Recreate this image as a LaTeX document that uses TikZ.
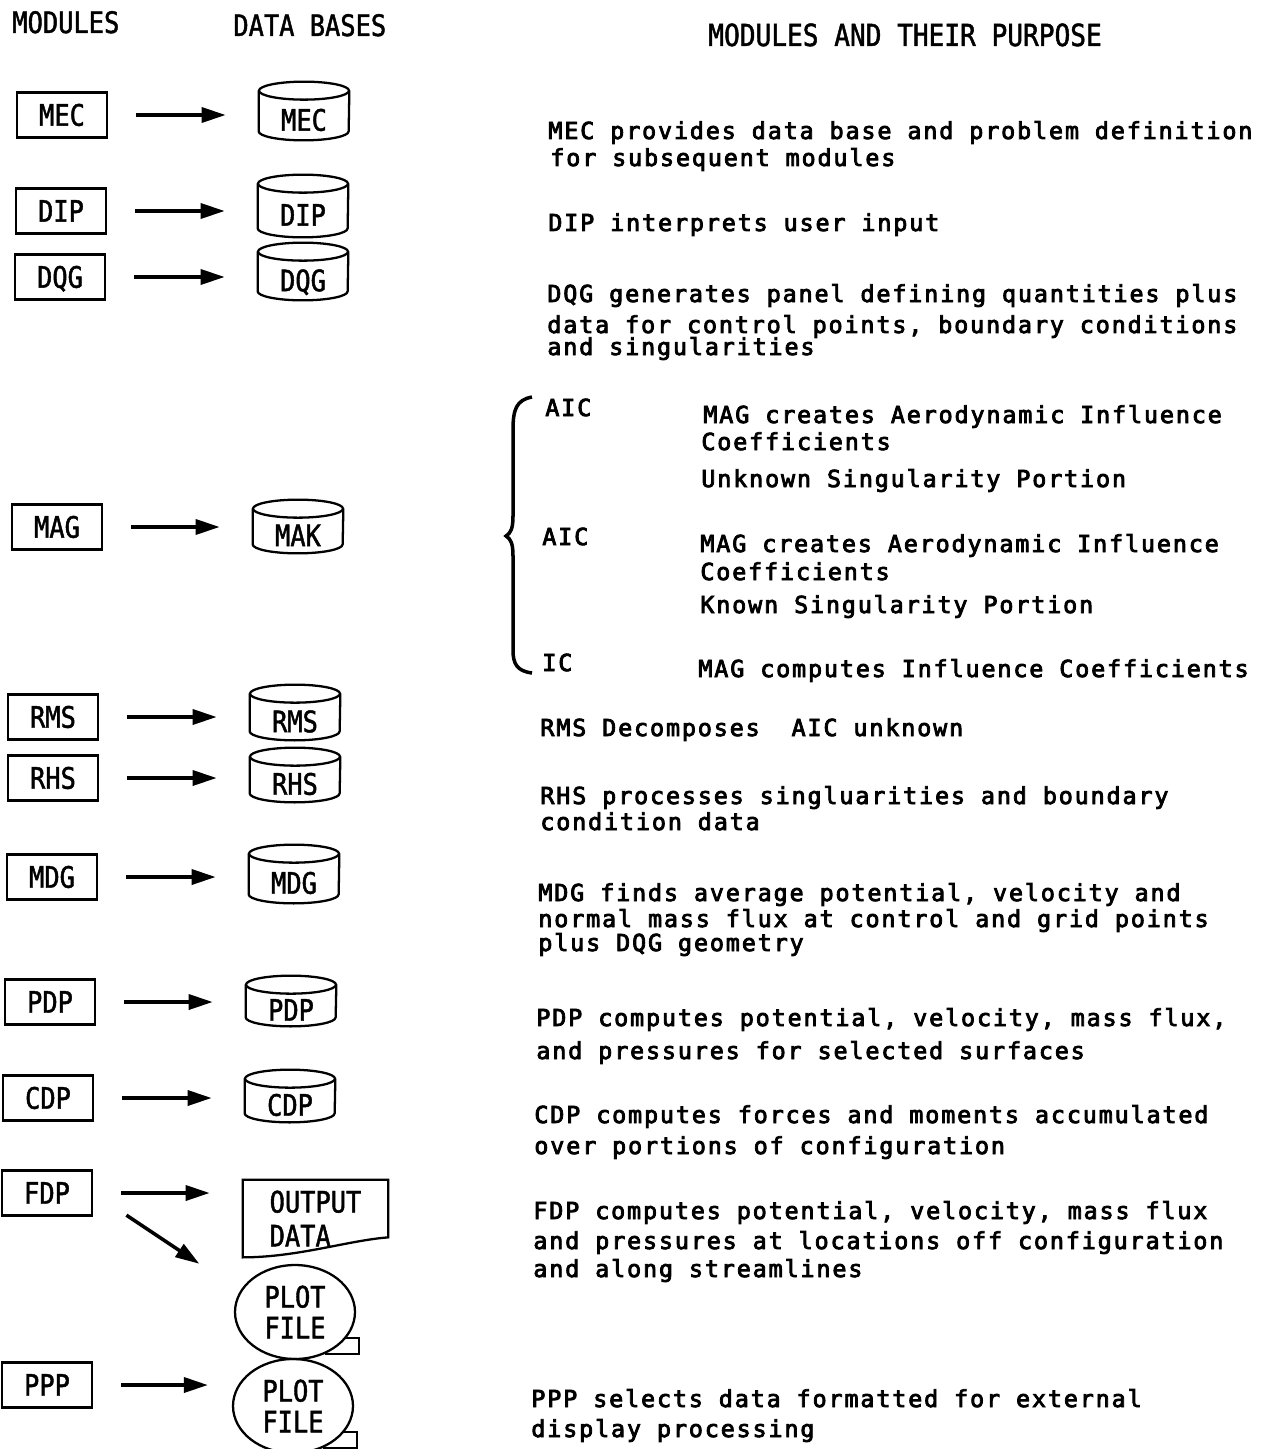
\documentclass[tikz,border=0pt]{standalone}
\usepackage{fontspec}
\setmainfont{DejaVu Sans Mono}
\newfontfamily\boxfont{DejaVu Sans Mono}[FakeStretch=0.86, FakeBold=1.5]
\newfontfamily\descfont{DejaVu Sans Mono}[LetterSpace=8, FakeBold=3.5]
\usetikzlibrary{calc,arrows.meta,shapes.geometric}

\begin{document}
\begin{tikzpicture}[x=0.02cm, y=-0.02cm,
    modbox/.style={draw, line width=1.3pt, minimum width=1.8cm, minimum height=0.9cm, inner sep=0pt,
        font=\boxfont\fontsize{16.8pt}{19.3pt}\selectfont, text height=12.2pt, text depth=0pt},
    dbbody/.style={minimum width=1.8cm, inner sep=0pt,
        font=\boxfont\fontsize{16.8pt}{19.3pt}\selectfont, text height=12.2pt, text depth=0pt},
    outdoc/.style={minimum width=2.9cm, minimum height=1.54cm, inner sep=0pt, align=left,
        font=\boxfont\fontsize{16.8pt}{19.3pt}\selectfont},
    plotfile/.style={draw, ellipse, line width=1.3pt, minimum width=2.4cm, minimum height=1.88cm,
        inner sep=0pt, align=center, font=\boxfont\fontsize{16.8pt}{17.6pt}\selectfont},
    dbline/.style={line width=1.3pt},
    flow/.style={line width=2pt, -{Triangle[length=0.48cm, width=0.3cm]},
        shorten <=0.56cm, shorten >=0.66cm},
    head/.style={anchor=base west, inner sep=0pt, font=\boxfont\fontsize{16.8pt}{19.3pt}\selectfont},
    desc/.style={anchor=base west, inner sep=0pt, font=\descfont\fontsize{13.3pt}{16pt}\selectfont}]
    \useasboundingbox (0,0) rectangle (1273,1449);

    % Column headings
    \node[head] (hMod) at (12,33) {MODULES};
    \node[head] (hDb) at (233,36) {DATA BASES};
    \node[head, font=\boxfont\fontsize{17.3pt}{19.3pt}\selectfont] (hPurp) at (708,46) {MODULES AND THEIR PURPOSE};

    % Module boxes
    \foreach \n/\cx/\cy in {MEC/62/115, DIP/61/211, DQG/60/277, MAG/57/527, RMS/53/717,
        RHS/53/778, MDG/52/877, PDP/50/1002, CDP/48/1098, FDP/47/1193, PPP/47/1385} {
        \node[modbox] (box\n) at (\cx,\cy) {\n};
    }

    % Data base cylinders
    \foreach \n/\lbl/\cx/\cy/\h in {MEC/MEC/304/120/40, DIP/DIP/303/215/44, DQG/DQG/303/280.5/39,
        MAG/MAK/298/535.5/35, RMS/RMS/295/721.5/37, RHS/RHS/295/784/36,
        MDG/MDG/294/883/40, PDP/PDP/291/1010/32, CDP/CDP/290/1105/34} {
        \node[dbbody, minimum height=\h*0.02cm] (db\n) at (\cx,\cy) {\lbl};
        \draw[dbline] ([yshift=0.18cm]db\n.north) ellipse [x radius=45, y radius=9];
        \draw[dbline] ([yshift=0.18cm]db\n.north west) -- ([yshift=0.18cm]db\n.south west)
            arc [start angle=180, end angle=0, x radius=45, y radius=9]
            -- ([yshift=0.18cm]db\n.north east);
    }

    % Output data sheet
    \node[outdoc] (dbOUT) at (315.5,1218.5) {OUTPUT\\DATA};
    \draw[dbline] (dbOUT.north west) -- (dbOUT.north east) -- ([yshift=0.4cm]dbOUT.south east)
        .. controls +(-40,3) and +(55,0) .. (dbOUT.south west) -- cycle;

    % Plot files (tape)
    \node[plotfile] (plot1) at (295,1312) {PLOT\\FILE};
    \coordinate (tab1) at ($(plot1.east)+(3,0)$);
    \draw[dbline] (plot1.-27) -- (plot1.-27 -| tab1) -- (plot1.-55 -| tab1) -- (plot1.-55);
    \node[plotfile] (plot2) at (293,1406) {PLOT\\FILE};
    \coordinate (tab2) at ($(plot2.east)+(3,0)$);
    \draw[dbline] (plot2.-27) -- (plot2.-27 -| tab2) -- (plot2.-55 -| tab2) -- (plot2.-55);

    % Flow arrows
    \foreach \n in {MEC,DIP,DQG,MAG,RMS,RHS,MDG,PDP,CDP} {
        \draw[flow] (box\n.east) -- (box\n.east -| db\n.west);
    }
    \draw[flow] (boxFDP.east) -- (boxFDP.east -| dbOUT.west);
    \draw[flow, shorten <=0.8cm, shorten >=0.98cm] (boxFDP.east) -- (plot1.159);
    \draw[flow, shorten >=0.48cm] (boxPPP.east) -- (boxPPP.east -| plot2.west);

    % MAG brace
    \draw[line width=2pt] (532,397) .. controls (516,400) and (513,410) .. (513,430)
        -- (513,516) .. controls (513,528) and (511,533) .. (506,536)
        .. controls (511,539) and (513,544) .. (513,556)
        -- (513,650) .. controls (513,664) and (517,671) .. (532,673);

    % Purposes
    \foreach \x/\y/\t [count=\i] in {
        548/139/MEC provides data base and problem definition,
        550/166/for subsequent modules,
        548/231/DIP interprets user input,
        547/302/DQG generates panel defining quantities plus,
        547/333/{data for control points, boundary conditions},
        547/355/and singularities,
        545/416/AIC,
        703/423/MAG creates Aerodynamic Influence,
        701/450/Coefficients,
        701/487/Unknown Singularity Portion,
        542/545/AIC,
        700/552/MAG creates Aerodynamic Influence,
        700/580/Coefficients,
        700/613/Known Singularity Portion,
        542/671/IC,
        698/677/MAG computes Influence Coefficients,
        540/736/RMS Decomposes\ \ AIC unknown,
        540/804/RHS processes singluarities and boundary,
        540/830/condition data,
        538/901/{MDG finds average potential, velocity and},
        538/927/normal mass flux at control and grid points,
        538/951/plus DQG geometry,
        536/1026/{PDP computes potential, velocity, mass flux,},
        536/1059/and pressures for selected surfaces,
        534/1123/CDP computes forces and moments accumulated,
        534/1154/over portions of configuration,
        533/1219/{FDP computes potential, velocity, mass flux},
        533/1249/and pressures at locations off configuration,
        533/1277/and along streamlines,
        531/1407/PPP selects data formatted for external,
        531/1437/display processing} {
        \node[desc] (d\i) at (\x,\y) {\t};
    }
\end{tikzpicture}
\end{document}
